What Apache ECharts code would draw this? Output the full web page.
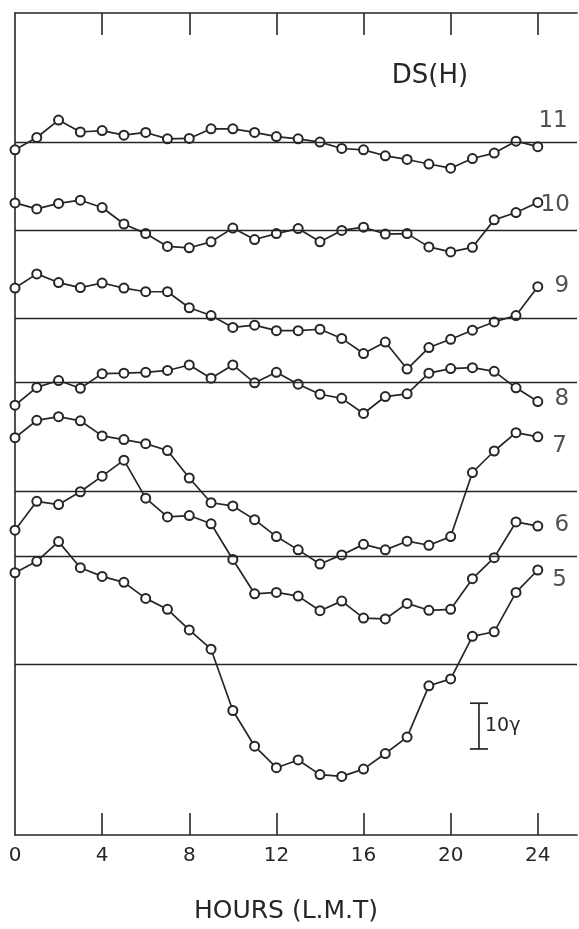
<!DOCTYPE html>
<html>
<head>
<meta charset="utf-8">
<title>DS(H)</title>
<script src="https://cdn.jsdelivr.net/npm/echarts@6/dist/echarts.min.js"></script>
<style>
  html, body { margin: 0; padding: 0; background: #fff; }
  #chart { width: 579px; height: 929px; }
</style>
</head>
<body>
<div id="chart"></div>
<script>
// hour of each reading (L.M.T)
const hours = [0, 1, 2, 3, 4, 5, 6, 7, 8, 9, 10, 11, 12, 13, 14, 15, 16, 17, 18, 19, 20, 21, 22, 23, 24];

// DS(H) for each day, in gamma, measured from that day's base line
const day11 = [-1.7, 1.0, 4.8, 2.2, 2.5, 1.5, 2.1, 0.7, 0.8, 2.9, 2.9, 2.1, 1.2, 0.7, 0.0, -1.4, -1.7, -3.0, -3.8, -4.8, -5.7, -3.6, -2.4, 0.2, -1.0];
const day10 = [6.0, 4.7, 5.9, 6.6, 5.0, 1.4, -0.7, -3.5, -3.8, -2.5, 0.5, -2.0, -0.7, 0.4, -2.5, 0.0, 0.7, -0.8, -0.7, -3.6, -4.7, -3.7, 2.3, 3.9, 6.1];
const day9 = [6.5, 9.6, 7.7, 6.6, 7.6, 6.5, 5.7, 5.7, 2.2, 0.5, -2.1, -1.6, -2.8, -2.8, -2.5, -4.5, -7.8, -5.3, -11.2, -6.5, -4.7, -2.7, -0.9, 0.5, 6.8];
const day8 = [-5.1, -1.2, 0.3, -1.4, 1.8, 1.9, 2.1, 2.5, 3.7, 0.8, 3.7, -0.2, 2.1, -0.5, -2.7, -3.6, -6.9, -3.2, -2.6, 1.9, 2.9, 3.1, 2.3, -1.3, -4.3];
const day7 = [11.6, 15.4, 16.2, 15.3, 12.0, 11.2, 10.3, 8.8, 2.8, -2.6, -3.3, -6.3, -10.0, -12.9, -16.0, -14.0, -11.7, -12.9, -11.0, -11.9, -10.0, 4.0, 8.7, 12.7, 11.8];
const day6 = [5.8, 12.1, 11.4, 14.2, 17.6, 21.1, 12.8, 8.7, 9.0, 7.2, -0.6, -8.1, -7.8, -8.6, -11.8, -9.7, -13.4, -13.6, -10.2, -11.7, -11.5, -4.8, -0.2, 7.6, 6.7];
const day5 = [20.1, 22.6, 26.9, 21.2, 19.3, 18.0, 14.5, 12.1, 7.6, 3.4, -10.0, -17.8, -22.5, -20.8, -24.0, -24.4, -22.8, -19.4, -15.8, -4.6, -3.1, 6.2, 7.2, 15.8, 20.7];

// day names, where each base line sits (gamma above the time axis), and where the day number is written
const dayNames = ['5', '6', '7', '8', '9', '10', '11'];
const baseLevels = [37.2, 60.8, 75.2, 99.0, 113.0, 132.1, 151.4];
const nameSpots = [[25.0, 55.7], [25.1, 67.8], [25.0, 85.0], [25.1, 95.2], [25.1, 120.0], [24.8, 137.6], [24.7, 155.9]];

// hour ticks and the 10 gamma scale bar [hour, bottom, length]
const hourTicks = [0, 4, 8, 12, 16, 20, 24];
const scaleBar = [21.3, 18.8, 10];

const ink = '#262626';
const font = 'DejaVu Sans';
const allDays = [day5, day6, day7, day8, day9, day10, day11];

const chart = echarts.init(document.getElementById('chart'));

const series = allDays.map((vals, k) => ({
  name: dayNames[k],
  type: 'line',
  data: hours.map((h, i) => [h, baseLevels[k] + vals[i]]),
  symbol: 'emptyCircle',
  symbolSize: 9,
  lineStyle: { color: ink, width: 1.7 },
  itemStyle: { color: ink, borderWidth: 1.7 },
  markLine: {
    silent: true,
    symbol: 'none',
    label: { show: false },
    lineStyle: { color: ink, width: 1.4, type: 'solid' },
    data: [{ yAxis: baseLevels[k] }]
  },
  z: 3
}));

// day numbers at the right
series.push({
  type: 'scatter',
  symbolSize: 0,
  data: nameSpots.map((p, k) => ({ name: dayNames[k], value: p })),
  label: {
    show: true,
    position: 'inside',
    formatter: p => p.name,
    color: ink,
    fontFamily: font,
    fontSize: 23
  },
  z: 4
});

// 10 gamma bar
series.push({
  type: 'custom',
  data: [scaleBar],
  renderItem: (params, api) => {
    const x = api.value(0), y0 = api.value(1), len = api.value(2);
    const lo = api.coord([x, y0]);
    const hi = api.coord([x, y0 + len]);
    const st = { stroke: ink, lineWidth: 1.7 };
    return {
      type: 'group',
      children: [
        { type: 'line', shape: { x1: lo[0], y1: lo[1], x2: hi[0], y2: hi[1] }, style: st },
        { type: 'line', shape: { x1: lo[0] - 9, y1: lo[1], x2: lo[0] + 9, y2: lo[1] }, style: st },
        { type: 'line', shape: { x1: hi[0] - 9, y1: hi[1], x2: hi[0] + 9, y2: hi[1] }, style: st },
        {
          type: 'text',
          style: {
            text: '10γ', x: lo[0] + 6, y: (lo[1] + hi[1]) / 2,
            fill: ink, font: '19px "DejaVu Sans"', verticalAlign: 'middle'
          }
        }
      ]
    };
  },
  z: 4
});

chart.setOption({
  animation: false,
  backgroundColor: '#fff',
  title: {
    text: 'DS(H)',
    left: 425,
    top: 58,
    textAlign: 'center',
    textStyle: { color: ink, fontFamily: font, fontWeight: 'normal', fontSize: 26 }
  },
  grid: { left: 15, right: 2, top: 13, bottom: 88 },
  xAxis: [
    {
      type: 'value',
      min: 0,
      max: 25.8,
      interval: 4,
      position: 'bottom',
      name: 'HOURS (L.M.T)',
      nameLocation: 'middle',
      nameGap: 64,
      nameTextStyle: { color: ink, fontFamily: font, fontSize: 25, padding: [0, 20, 0, 0] },
      axisLine: { lineStyle: { color: ink, width: 1.6 } },
      axisTick: { inside: true, length: 22, customValues: hourTicks.slice(1), lineStyle: { color: ink, width: 1.6 } },
      axisLabel: {
        color: ink, fontFamily: font, fontSize: 20, margin: 11,
        customValues: hourTicks,
        formatter: v => String(v)
      },
      splitLine: { show: false }
    },
    {
      type: 'value',
      min: 0,
      max: 25.8,
      interval: 4,
      position: 'top',
      axisLine: { lineStyle: { color: ink, width: 1.6 } },
      axisTick: { inside: true, length: 22, customValues: hourTicks.slice(1), lineStyle: { color: ink, width: 1.6 } },
      axisLabel: { show: false },
      splitLine: { show: false }
    }
  ],
  yAxis: {
    type: 'value',
    min: 0,
    max: 179.6,
    axisLine: { show: true, lineStyle: { color: ink, width: 1.6 } },
    axisTick: { show: false },
    axisLabel: { show: false },
    splitLine: { show: false }
  },
  series: series
});
</script>
</body>
</html>
